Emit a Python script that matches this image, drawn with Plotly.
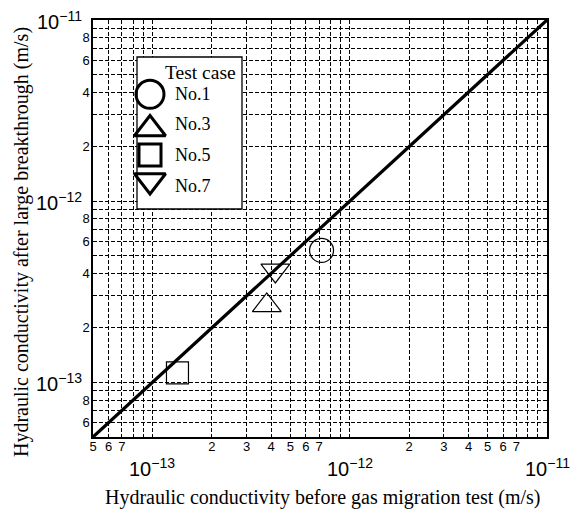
import numpy as np
import plotly.graph_objects as go

# ---- data ----
cases = ["No.1", "No.3", "No.5", "No.7"]
symbols = ["circle-open", "triangle-up-open", "square-open", "triangle-down-open"]
k_before = [7.2e-13, 3.8e-13, 1.34e-13, 4.2e-13]
k_after = [5.35e-13, 2.66e-13, 1.13e-13, 4.15e-13]
line_k = [5e-14, 1e-11]
majors = [1e-13, 1e-12, 1e-11]
x_digits = [2, 3, 4, 5, 6, 7]
y_digits = [2, 4, 6, 8]

# ---- layout geometry (pixels) ----
W, H = 576, 512
L, R, T, B = 93, 547, 20, 437

def fx(p):
    return (p - L) / (R - L)

def fy(p):
    return (B - p) / (B - T)

# all integer grid values between 5e-14 and 1e-11
grid_vals = []
for e in (-14, -13, -12):
    for d in range(1, 10):
        v = d * 10.0 ** e
        if 5e-14 * 0.999 <= v <= 1e-11 * 1.001:
            grid_vals.append(v)
grid_vals.append(1e-11)

def digit(v):
    return int(round(v / 10 ** np.floor(np.log10(v) + 1e-9)))

def x_label(v):
    d = digit(v)
    return str(d) if (d in x_digits and v < 1e-11) else ""

def y_label(v):
    d = digit(v)
    return str(d) if d in y_digits else ""

fig = go.Figure()

# 1:1 line
fig.add_trace(go.Scatter(x=line_k, y=line_k, mode="lines",
                         line=dict(color="black", width=3.2),
                         showlegend=False, hoverinfo="skip"))

# data markers
sizes = [24, 25, 22, 25]
for c, s, xb, ya, sz in zip(cases, symbols, k_before, k_after, sizes):
    fig.add_trace(go.Scatter(x=[xb], y=[ya], mode="markers",
                             marker=dict(symbol=s, size=sz, color="black",
                                         line=dict(width=1.2, color="black")),
                             showlegend=False, name=c))

# manual legend box (overlay axis, covers the grid)
bx0, bx1, by0, by1 = fx(137), fx(242), fy(209), fy(57)
fig.add_trace(go.Scatter(x=[bx0, bx1, bx1, bx0, bx0], y=[by0, by0, by1, by1, by0],
                         mode="lines", fill="toself", fillcolor="white",
                         line=dict(color="black", width=1.3),
                         xaxis="x2", yaxis="y2", showlegend=False, hoverinfo="skip"))

leg_y_mark = [fy(94.3), fy(129), fy(155), fy(180.5)]
leg_y_text = [fy(94.3), fy(123.7), fy(155), fy(185.7)]
leg_sizes = [28, 27, 22, 27]
for c, s, yy, sz in zip(cases, symbols, leg_y_mark, leg_sizes):
    fig.add_trace(go.Scatter(x=[fx(150)], y=[yy], mode="markers",
                             xaxis="x2", yaxis="y2",
                             marker=dict(symbol=s, size=sz, color="black",
                                         line=dict(width=3, color="black")),
                             showlegend=False, hoverinfo="skip"))

annotations = []
for c, yy in zip(cases, leg_y_text):
    annotations.append(dict(xref="paper", yref="paper", x=fx(173), y=yy,
                            xanchor="left", yanchor="middle", text=c,
                            showarrow=False,
                            font=dict(family="Liberation Serif", size=18, color="black")))
annotations.append(dict(xref="paper", yref="paper", x=fx(163), y=fy(72.7),
                        xanchor="left", yanchor="middle", text="Test case",
                        showarrow=False,
                        font=dict(family="Liberation Serif", size=19.5, color="black")))

# major tick labels
for m in majors:
    e = int(round(np.log10(m)))
    txt = "10<sup>\u2212%d</sup>" % (-e)
    annotations.append(dict(xref="x", yref="paper", x=np.log10(m), y=0,
                            xanchor="center", yanchor="top", yshift=-16,
                            text=txt, showarrow=False,
                            font=dict(family="Liberation Sans", size=20, color="black")))
    annotations.append(dict(xref="paper", yref="y", x=0, y=np.log10(m),
                            xanchor="right", yanchor="middle", xshift=-9,
                            text=txt, showarrow=False,
                            font=dict(family="Liberation Sans", size=20, color="black")))

# axis titles
annotations.append(dict(xref="paper", yref="paper", x=fx(322), y=0, xanchor="center",
                        yanchor="middle", yshift=-(497 - B),
                        text="Hydraulic conductivity before gas migration test (m/s)",
                        showarrow=False,
                        font=dict(family="Liberation Serif", size=20, color="black")))
annotations.append(dict(xref="paper", yref="paper", x=0, y=fy(242), xanchor="center",
                        yanchor="middle", xshift=-(L - 21), textangle=-90,
                        text="Hydraulic conductivity after large breakthrough (m/s)",
                        showarrow=False,
                        font=dict(family="Liberation Serif", size=20, color="black")))

axis_common = dict(type="log", showline=True, linecolor="black", linewidth=1.5,
                   mirror=True, showgrid=True, gridcolor="black", gridwidth=1,
                   griddash="4px,2px", zeroline=False, ticks="",
                   tickfont=dict(family="Liberation Sans", size=13, color="black"))

fig.update_layout(
    width=W, height=H,
    margin=dict(l=L, r=W - R, t=T, b=H - B),
    paper_bgcolor="white", plot_bgcolor="white",
    xaxis=dict(range=[np.log10(line_k[0]), np.log10(line_k[1])],
               tickvals=grid_vals, ticktext=[x_label(v) for v in grid_vals],
               ticklabelstandoff=-3, **axis_common),
    yaxis=dict(range=[np.log10(line_k[0]), np.log10(line_k[1])],
               tickvals=grid_vals, ticktext=[y_label(v) for v in grid_vals],
               ticklabelstandoff=-1, **axis_common),
    xaxis2=dict(overlaying="x", range=[0, 1], visible=False),
    yaxis2=dict(overlaying="y", range=[0, 1], visible=False),
    annotations=annotations,
    showlegend=False,
)

fig.write_html("out.html")
